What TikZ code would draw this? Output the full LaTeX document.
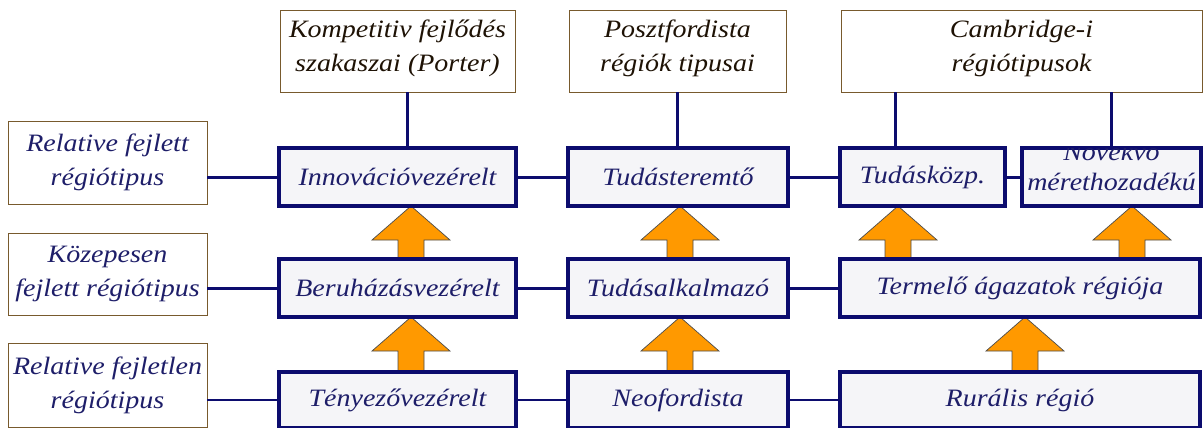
\documentclass[tikz,border=0pt]{standalone}
\usepackage{fontspec}
\setmainfont{Liberation Serif}[FakeStretch=1.12]
\usetikzlibrary{calc}
\definecolor{navy}{RGB}{12,12,110}
\definecolor{navytext}{RGB}{30,30,105}
\definecolor{brownb}{RGB}{120,90,45}
\definecolor{toptext}{RGB}{30,18,5}
\definecolor{boxfill}{RGB}{245,245,248}
\definecolor{orangef}{RGB}{255,153,0}
\tikzset{
  txt/.style={font=\fontsize{25}{34}\selectfont\itshape, align=center},
  topbox/.style={txt, draw=brownb, line width=0.9pt, fill=white, text=toptext, inner sep=0pt},
  labbox/.style={txt, draw=brownb, line width=0.9pt, fill=white, text=navytext, inner sep=0pt},
  midbox/.style={txt, draw=navy, line width=3.5pt, fill=boxfill, text=navytext, inner sep=0pt},
  conn/.style={draw=navy, line width=3pt},
  connthin/.style={draw=navy, line width=2.2pt},
  orarrow/.style={fill=orangef, draw=black!70, line width=0.7pt, line join=miter},
}
\newcommand\uparrowshape[3]{% x, ytip, ybase
  \draw[orarrow] ({#1-13},#3) -- ({#1-13},{#2+34}) -- ({#1-39},{#2+34}) -- (#1,#2) -- ({#1+39},{#2+34}) -- ({#1+13},{#2+34}) -- ({#1+13},#3) -- cycle;}
\begin{document}
\begin{tikzpicture}[x=1pt,y=-1pt]
\useasboundingbox[fill=white] (0,0) rectangle (1203,428);
% arrows (drawn first, boxes over them)
\uparrowshape{411}{206}{259}
\uparrowshape{411}{317}{372}
\uparrowshape{680}{206}{259}
\uparrowshape{680}{317}{372}
\uparrowshape{898}{206}{259}
\uparrowshape{1132}{206}{259}
\uparrowshape{1025}{317}{372}
% top boxes
\node[topbox, minimum width=235, minimum height=82] (porter) at (397.5,51) {};
\node[txt, text=toptext, inner sep=0pt] at (397.5,48) {Kompetitiv fejlődés\\szakaszai (Porter)};
\node[topbox, minimum width=217, minimum height=82] (poszt) at (677.5,51) {};
\node[txt, text=toptext, inner sep=0pt] at (677.5,48) {Posztfordista\\régiók tipusai};
\node[topbox, minimum width=361, minimum height=82] (cam) at (1021.5,51) {};
\node[txt, text=toptext, inner sep=0pt] at (1021.5,48) {Cambridge-i\\régiótipusok};
% left labels
\node[labbox, minimum width=199, minimum height=83] (lab1) at (107.5,162.5) {Relative fejlett\\régiótipus};
\node[labbox, minimum width=199, minimum height=82] (lab2) at (107.5,274) {Közepesen\\fejlett régiótipus};
\node[labbox, minimum width=199, minimum height=84] (lab3) at (107.5,385) {Relative fejletlen\\régiótipus};
% row 1
\node[midbox, minimum width=237, minimum height=58] (innov) at (397.5,177) {Innovációvezérelt};
\node[midbox, minimum width=220, minimum height=58] (tudter) at (678,177) {Tudásteremtő};
\node[midbox, minimum width=165, minimum height=58] (tk) at (922.5,177) {Tudásközp.};
\node[midbox, minimum width=179, minimum height=58] (novekvo) at (1111.5,177) {};
\begin{scope}
\clip ($(novekvo.south west)+(1.75,-1.75)$) rectangle ($(novekvo.north east)+(-1.75,1.75)$);
\node[txt, font=\fontsize{25}{30}\selectfont\itshape, text=navytext, inner sep=0pt] at (1111.5,167) {Növekvő\\mérethozadékú};
\end{scope}
% row 2
\node[midbox, minimum width=237, minimum height=58] (beru) at (397.5,288) {Beruházásvezérelt};
\node[midbox, minimum width=220, minimum height=58] (tudalk) at (678,288) {Tudásalkalmazó};
\node[midbox, minimum width=360, minimum height=58] (termelo) at (1020,288) {Termelő ágazatok régiója};
% row 3
\node[midbox, minimum width=237, minimum height=56] (teny) at (397.5,400) {Tényezővezérelt};
\node[midbox, minimum width=220, minimum height=56] (neo) at (678,400) {Neofordista};
\node[midbox, minimum width=360, minimum height=56] (rural) at (1020,400) {Rurális régió};
% horizontal connectors
\draw[conn] (lab1.east |- innov.west) -- (innov.west);
\draw[conn] (innov.east) -- (tudter.west);
\draw[conn] (tudter.east) -- (tk.west);
\draw[conn] (tk.east) -- (novekvo.west);
\draw[conn] (lab2.east |- beru.west) -- (beru.west);
\draw[conn] (beru.east) -- (tudalk.west);
\draw[conn] (tudalk.east) -- (termelo.west);
\draw[connthin] (lab3.east |- teny.west) -- (teny.west);
\draw[connthin] (teny.east) -- (neo.west);
\draw[connthin] (neo.east) -- (rural.west);
% vertical connectors
\draw[conn] ([xshift=9.5pt]porter.south) -- ([xshift=9.5pt]innov.north);
\draw[conn] (poszt.south) -- (poszt.south |- tudter.north);
\coordinate (c1) at ([xshift=-27.5pt]tk.north);
\draw[conn] (c1 |- cam.south) -- (c1);
\draw[conn] (novekvo.north |- cam.south) -- (novekvo.north);
\end{tikzpicture}
\end{document}
